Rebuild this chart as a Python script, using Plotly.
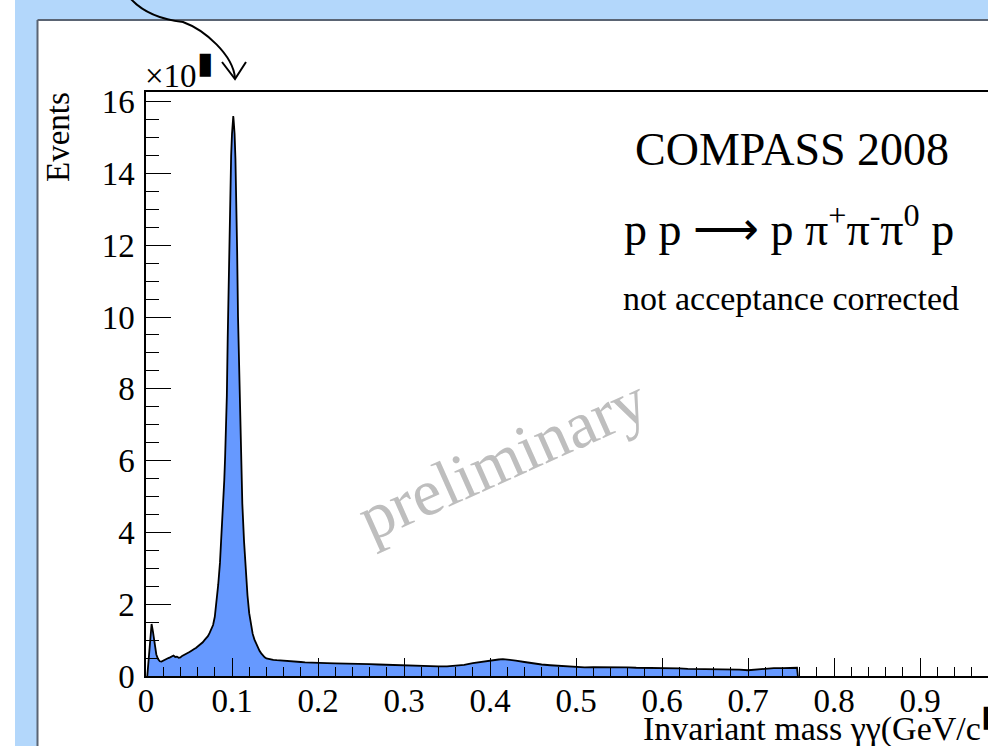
import plotly.graph_objects as go

# ---------------- data ----------------
mass_gev = [
    0.0015, 0.003, 0.005, 0.0065, 0.008, 0.010, 0.012, 0.014, 0.016, 0.018,
    0.020, 0.022, 0.024, 0.026, 0.028, 0.030, 0.032, 0.034, 0.036, 0.038,
    0.040, 0.042, 0.044, 0.046, 0.048, 0.050, 0.052, 0.054, 0.056, 0.058,
    0.060, 0.062, 0.064, 0.066, 0.068, 0.070, 0.072, 0.074, 0.076, 0.078,
    0.080, 0.082, 0.084, 0.086, 0.088, 0.090, 0.091, 0.092, 0.093, 0.094,
    0.095, 0.096, 0.097, 0.098, 0.099, 0.100, 0.101, 0.1015, 0.102, 0.103,
    0.104, 0.105, 0.106, 0.107, 0.108, 0.109, 0.110, 0.111, 0.112, 0.114,
    0.116, 0.118, 0.120, 0.122, 0.124, 0.126, 0.128, 0.130, 0.132, 0.134,
    0.136, 0.138, 0.140, 0.144, 0.148, 0.152, 0.156, 0.160, 0.165, 0.170,
    0.175, 0.180, 0.185, 0.190, 0.195, 0.200, 0.21, 0.22, 0.23, 0.24,
    0.25, 0.26, 0.27, 0.28, 0.29, 0.30, 0.31, 0.32, 0.33, 0.34,
    0.35, 0.36, 0.37, 0.38, 0.39, 0.40, 0.41, 0.415, 0.42, 0.43,
    0.44, 0.45, 0.46, 0.47, 0.48, 0.49, 0.50, 0.51, 0.52, 0.53,
    0.54, 0.55, 0.56, 0.57, 0.58, 0.59, 0.60, 0.61, 0.62, 0.63,
    0.64, 0.65, 0.66, 0.67, 0.68, 0.69, 0.70, 0.71, 0.72, 0.73,
    0.74, 0.75, 0.757, 0.758,
]
events_k = [
    0.0, 0.5, 1.1, 1.45, 1.25, 0.85, 0.60, 0.47, 0.41, 0.40,
    0.43, 0.44, 0.47, 0.50, 0.52, 0.55, 0.57, 0.53, 0.54, 0.51,
    0.52, 0.56, 0.58, 0.61, 0.63, 0.66, 0.69, 0.71, 0.75, 0.78,
    0.82, 0.85, 0.90, 0.94, 1.00, 1.05, 1.11, 1.20, 1.30, 1.42,
    1.65, 2.05, 2.55, 3.15, 4.00, 4.90, 5.45, 6.10, 6.90, 7.80,
    9.40, 10.8, 12.2, 13.5, 14.5, 15.1, 15.5, 15.6, 15.45, 15.1,
    14.4, 13.3, 11.8, 10.0, 8.8, 7.7, 6.6, 5.6, 4.8, 3.75,
    2.90, 2.25, 1.75, 1.42, 1.18, 1.02, 0.90, 0.79, 0.70, 0.63,
    0.57, 0.52, 0.49, 0.46, 0.45, 0.44, 0.43, 0.42, 0.41, 0.40,
    0.40, 0.39, 0.38, 0.38, 0.37, 0.37, 0.36, 0.35, 0.35, 0.34,
    0.33, 0.33, 0.32, 0.31, 0.31, 0.31, 0.30, 0.29, 0.28, 0.27,
    0.27, 0.28, 0.31, 0.36, 0.40, 0.43, 0.46, 0.47, 0.46, 0.43,
    0.39, 0.35, 0.32, 0.30, 0.28, 0.26, 0.25, 0.24, 0.25, 0.25,
    0.26, 0.25, 0.24, 0.23, 0.23, 0.22, 0.21, 0.21, 0.21, 0.20,
    0.20, 0.20, 0.20, 0.19, 0.19, 0.18, 0.16, 0.18, 0.21, 0.22,
    0.22, 0.23, 0.23, 0.0,
]
x_tick_vals = [0, 0.1, 0.2, 0.3, 0.4, 0.5, 0.6, 0.7, 0.8, 0.9]
x_tick_text = ["0", "0.1", "0.2", "0.3", "0.4", "0.5", "0.6", "0.7", "0.8", "0.9"]
y_tick_vals = [0, 2, 4, 6, 8, 10, 12, 14, 16]
y_tick_text = ["0", "2", "4", "6", "8", "10", "12", "14", "16"]

assert len(mass_gev) == len(events_k)

# ---------------- geometry ----------------
W, H = 988, 746
L, R, T, B = 146, 0, 92, 70
PW, PH = W - L - R, H - T - B

def px(x):
    return (x - L) / PW

def py(y):
    return (H - B - y) / PH

def path(cmds):
    out = []
    for c in cmds:
        if isinstance(c, str):
            out.append(c)
        else:
            out.append(f"{px(c[0]):.5f},{py(c[1]):.5f}")
    return " ".join(out)

SERIF = "Liberation Serif"
BLUE_BG = "rgb(179,215,251)"
BORDER = "rgb(90,100,115)"

fig = go.Figure()
fig.add_trace(go.Scatter(
    x=mass_gev, y=events_k, mode="lines",
    line=dict(color="black", width=1.8),
    fill="tozeroy", fillcolor="rgb(102,153,255)",
    hoverinfo="skip", showlegend=False,
))

axis_common = dict(
    showgrid=False, zeroline=False, showline=True, linecolor="black",
    ticks="inside", tickcolor="black",
    tickfont=dict(family=SERIF, size=33, color="black"),
)
fig.update_xaxes(
    **axis_common, range=[0, PW / 860], linewidth=2, mirror=True,
    tickvals=x_tick_vals, ticktext=x_tick_text, ticklen=18, tickwidth=1.3,
    ticklabelstandoff=-6,
    minor=dict(dtick=0.02, ticklen=9, ticks="inside", tickcolor="black", tickwidth=1.3),
)
fig.update_yaxes(
    **axis_common, range=[0, PH / 35.9], linewidth=1.5, mirror=False,
    tickvals=y_tick_vals, ticktext=y_tick_text, ticklen=25, tickwidth=1.3,
    ticklabelstandoff=3,
    minor=dict(dtick=0.5, ticklen=13, ticks="inside", tickcolor="black", tickwidth=1.3),
)

shapes = [
    dict(type="rect", xref="paper", yref="paper", x0=px(15), x1=px(990), y0=py(0), y1=py(20),
         fillcolor=BLUE_BG, line=dict(width=0), layer="below"),
    dict(type="rect", xref="paper", yref="paper", x0=px(15), x1=px(37), y0=py(0), y1=py(750),
         fillcolor=BLUE_BG, line=dict(width=0), layer="below"),
    dict(type="line", xref="paper", yref="paper", x0=px(37.5), x1=px(37.5), y0=py(20), y1=py(750),
         line=dict(color=BORDER, width=2), layer="below"),
    dict(type="line", xref="paper", yref="paper", x0=px(37.5), x1=px(990), y0=py(20), y1=py(20),
         line=dict(color=BORDER, width=2), layer="below"),
    dict(type="path", xref="paper", yref="paper",
         path=path(["M", (130, -2), "C", (145, 15), (165, 20), (183, 22),
                    "C", (205, 30), (233, 55), (235, 78)]),
         line=dict(color="black", width=2)),
    dict(type="path", xref="paper", yref="paper",
         path=path(["M", (222, 62), "L", (235, 79), "L", (246, 62)]),
         line=dict(color="black", width=2)),
]

def ann(text, x, y, size, xanchor="center", yanchor="middle", color="black", angle=0):
    return dict(text=text, x=px(x), y=py(y), xref="paper", yref="paper",
                xanchor=xanchor, yanchor=yanchor, showarrow=False, textangle=angle,
                font=dict(family=SERIF, size=size, color=color))

BOX = "<sup><span style='font-size:30px'>\u25ae</span></sup>"

annotations = [
    ann("COMPASS 2008", 792, 150, 46),
    ann("p p \u27f6 p \u03c0<sup>+</sup>\u03c0<sup>-</sup>\u03c0<sup>0</sup> p", 789, 226, 46),
    ann("not acceptance corrected", 791, 298, 34),
    ann("preliminary", 502, 458, 66, color="rgb(190,190,190)", angle=-24),
    ann("Events", 58, 137, 33, angle=-90),
    ann("\u00d710" + BOX, 143, 70, 33, xanchor="left"),
    ann("Invariant mass \u03b3\u03b3(GeV/c" + BOX + ")", 641, 724, 34, xanchor="left"),
]

fig.update_layout(
    width=W, height=H,
    margin=dict(l=L, r=R, t=T, b=B, pad=0),
    paper_bgcolor="white", plot_bgcolor="white",
    shapes=shapes, annotations=annotations,
    showlegend=False,
)

fig.write_html("out.html")
